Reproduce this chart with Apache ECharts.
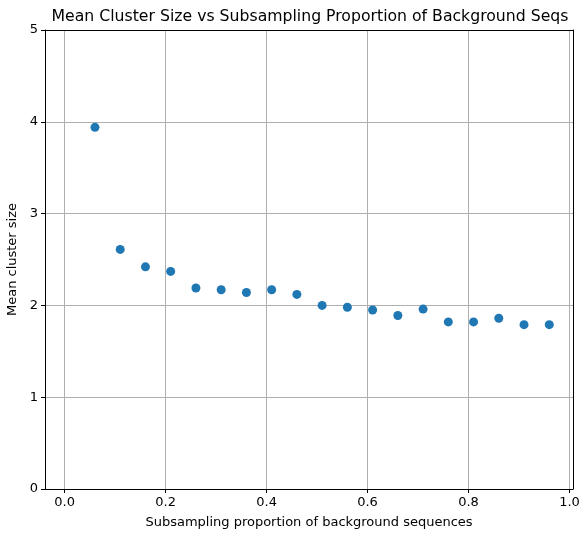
<!DOCTYPE html>
<html>
<head>
<meta charset="utf-8">
<script src="https://cdn.jsdelivr.net/npm/echarts@6/dist/echarts.min.js"></script>
<style>
  html, body { margin: 0; padding: 0; background: #fff; }
  #chart { width: 581px; height: 533px; }
</style>
</head>
<body>
<div id="chart"></div>
<script>
// subsampling proportions and mean cluster sizes
const proportions = [0.06, 0.11, 0.16, 0.21, 0.26, 0.31, 0.36, 0.41, 0.46, 0.51,
  0.56, 0.61, 0.66, 0.71, 0.76, 0.81, 0.86, 0.91, 0.96];
const meanSizes = [3.94, 2.61, 2.42, 2.37, 2.19, 2.17, 2.14, 2.17, 2.12, 2.00,
  1.98, 1.95, 1.89, 1.96, 1.82, 1.82, 1.86, 1.79, 1.79];
const xTicks = [0.0, 0.2, 0.4, 0.6, 0.8, 1.0];

const font = "DejaVu Sans";
const xMin = -0.039;
const xMax = 1.007;
const chart = echarts.init(document.getElementById("chart"));

chart.setOption({
  animation: false,
  title: {
    text: "Mean Cluster Size vs Subsampling Proportion of Background Seqs",
    left: 305,
    top: 4,
    textAlign: "center",
    textStyle: { fontFamily: font, fontSize: 15.7, fontWeight: "normal", color: "#000" }
  },
  grid: { left: 45, right: 8, top: 30, bottom: 44, outerBoundsMode: "none", containLabel: false },
  xAxis: [{
    type: "value",
    min: xMin,
    max: xMax,
    name: "Subsampling proportion of background sequences",
    nameLocation: "middle",
    nameGap: 27,
    nameTextStyle: { fontFamily: font, fontSize: 13, color: "#000" },
    axisLine: { onZero: false, lineStyle: { color: "#000", width: 1 } },
    axisTick: { show: true, inside: false, length: 4, customValues: xTicks, lineStyle: { color: "#000" } },
    axisLabel: {
      customValues: xTicks,
      fontFamily: font, fontSize: 13, color: "#000", margin: 7,
      formatter: v => v.toFixed(1)
    },
    splitLine: { show: true, customValues: xTicks, lineStyle: { color: "#b0b0b0", width: 1 } }
  }, {
    // top frame
    type: "value",
    position: "top",
    min: xMin,
    max: xMax,
    axisLine: { show: true, onZero: false, lineStyle: { color: "#000", width: 1 } },
    axisTick: { show: false },
    axisLabel: { show: false },
    splitLine: { show: false }
  }],
  yAxis: [{
    type: "value",
    min: 0,
    max: 5,
    interval: 1,
    name: "Mean cluster size",
    nameLocation: "middle",
    nameGap: 23,
    nameTextStyle: { fontFamily: font, fontSize: 13, color: "#000" },
    axisLine: { show: true, onZero: false, lineStyle: { color: "#000", width: 1 } },
    axisTick: { show: true, inside: false, length: 4, lineStyle: { color: "#000" } },
    axisLabel: { fontFamily: font, fontSize: 13, color: "#000", margin: 7 },
    splitLine: { show: true, lineStyle: { color: "#b0b0b0", width: 1 } }
  }, {
    // right frame
    type: "value",
    position: "right",
    min: 0,
    max: 5,
    axisLine: { show: true, onZero: false, lineStyle: { color: "#000", width: 1 } },
    axisTick: { show: false },
    axisLabel: { show: false },
    splitLine: { show: false }
  }],
  series: [{
    type: "scatter",
    symbol: "circle",
    symbolSize: 9,
    itemStyle: { color: "#1f77b4", opacity: 1 },
    data: proportions.map((p, i) => [p, meanSizes[i]])
  }]
});
</script>
</body>
</html>
